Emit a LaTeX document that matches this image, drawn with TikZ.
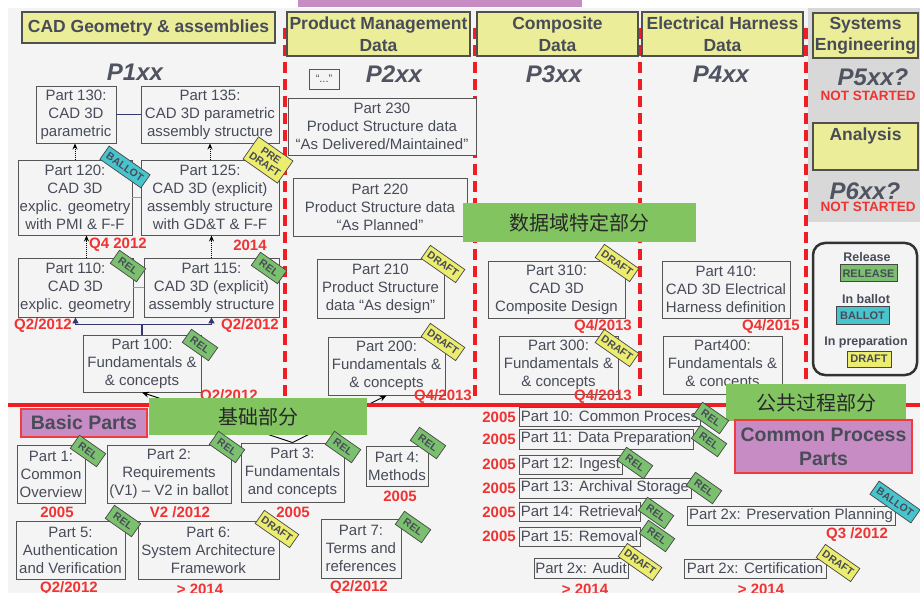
\documentclass[tikz,border=0pt]{standalone}
\usepackage{fontspec}
\setmainfont{Liberation Sans}
\newfontfamily\cjk{Noto Sans CJK SC}
\usetikzlibrary{arrows.meta}
\definecolor{bg}{RGB}{244,244,244}
\definecolor{txt}{RGB}{72,76,88}
\definecolor{boxline}{RGB}{85,85,85}
\definecolor{hdrline}{RGB}{80,80,80}
\definecolor{hdry}{RGB}{236,237,152}
\definecolor{pxxc}{RGB}{80,84,96}
\definecolor{labred}{RGB}{240,50,50}
\definecolor{dashred}{RGB}{240,30,35}
\definecolor{relg}{RGB}{122,192,110}
\definecolor{ballc}{RGB}{72,196,204}
\definecolor{drafty}{RGB}{236,236,110}
\definecolor{badgeline}{RGB}{70,70,70}
\definecolor{greenc}{RGB}{130,196,96}
\definecolor{cjktxt}{RGB}{40,40,40}
\definecolor{pinkc}{RGB}{200,140,196}
\definecolor{pinkline}{RGB}{240,60,60}
\definecolor{navyc}{RGB}{52,56,110}
\definecolor{redthin}{RGB}{240,120,120}
\definecolor{grayreg}{RGB}{216,216,216}
\definecolor{legline}{RGB}{50,50,50}
\newcommand\pbox[7][partbox]{\node[#1, minimum width={(#5-#3)*1pt}, minimum height={(#6-#4)*1pt}] (#2) at ({(#3+#5)/2},{(#4+#6)/2}) {#7};}
\begin{document}
\begin{tikzpicture}[x=1pt,y=-1pt,
 partbox/.style={draw=boxline, fill=bg, line width=0.9pt, align=center, text=txt, font=\fontsize{15}{18}\selectfont, inner sep=0pt},
 hdr/.style={draw=hdrline, fill=hdry, line width=1.2pt, align=center, text=txt, font=\bfseries\fontsize{17.5}{21.5}\selectfont, inner sep=0pt},
 hdrtxt/.style={text=txt, font=\bfseries\fontsize{17.5}{21.5}\selectfont, inner sep=0pt},
 pxx/.style={text=pxxc, font=\bfseries\itshape\fontsize{24}{24}\selectfont, inner sep=0pt},
 redlab/.style={text=labred, font=\bfseries\fontsize{15}{15}\selectfont, inner sep=0pt},
 nst/.style={text=labred, font=\bfseries\fontsize{13.5}{14}\selectfont, inner sep=0pt},
 badge/.style={draw=badgeline, line width=0.7pt, rotate=-35, text=txt, font=\bfseries\fontsize{10.5}{10.5}\selectfont, inner sep=0pt, align=center, minimum height=16pt},
 relb/.style={badge, fill=relg, minimum width=32pt},
 ballotb/.style={badge, fill=ballc, minimum width=50pt},
 draftb/.style={badge, fill=drafty, minimum width=42pt},
 greenb/.style={fill=greenc, text=cjktxt, font=\cjk\fontsize{20}{20}\selectfont, inner sep=0pt},
 pinkb/.style={draw=pinkline, fill=pinkc, line width=1.2pt, text=txt, font=\bfseries\fontsize{19.5}{24}\selectfont, align=center, inner sep=0pt},
 dotarrow/.style={densely dotted, line width=0.9pt, -{Stealth[length=6pt,width=5pt]}},
 navyline/.style={draw=navyc, line width=1.4pt},
 navyarrow/.style={navyline, -{Triangle[length=6pt,width=6pt]}},
 redconn/.style={draw=redthin, line width=1pt},
 blackarrow/.style={line width=0.9pt, -{Stealth[length=7pt,width=6pt]}},
 reddash/.style={draw=dashred, line width=3.5pt, dash pattern=on 11pt off 6pt},
 legt/.style={text=txt, font=\bfseries\fontsize{12.5}{13}\selectfont, inner sep=0pt},
 legb/.style={draw=badgeline, line width=1pt, text=txt, font=\bfseries\fontsize{11}{11}\selectfont, inner sep=0pt},
 legframe/.style={draw=legline, fill=bg, line width=2.5pt, rounded corners=12pt},
 dotsbox/.style={draw=boxline, fill=bg, line width=0.9pt, text=txt, font=\fontsize{11}{11}\selectfont, inner sep=0pt},
]
\useasboundingbox (0,0) rectangle (920,593);
\fill[white] (0,0) rectangle (920,593);
\fill[bg] (8,8) rectangle (920,593);
\fill[pinkc] (298,0) rectangle (582,7);
\fill[grayreg] (808,8) rectangle (920,222);
% dashed column separators
\foreach \xx in {285,475,640,806} \draw[reddash] (\xx,28) -- (\xx,402);
% headers
\pbox[hdr]{hcad}{22}{12}{275}{43}{CAD Geometry \& assemblies}
\pbox[hdr]{hpmd}{287}{12}{470}{56}{Product Management\\Data}
\pbox[hdr]{hcomp}{477}{12}{638}{56}{Composite\\Data}
\pbox[hdr]{helec}{642}{12}{803}{56}{Electrical Harness\\Data}
\pbox[hdr]{hsys}{813}{13}{918}{58}{Systems\\Engineering}
\pbox[hdr]{hana}{813}{123}{918}{170}{}
\node[hdrtxt] (anat) at ([yshift=-14pt]hana.north) {Analysis};
% Pxx titles
\node[pxx] (t1) at (135,72) {P1xx};
\node[pxx] (t2) at (394,74) {P2xx};
\node[pxx] (t3) at (554,74) {P3xx};
\node[pxx] (t4) at (721,74) {P4xx};
\node[pxx] (t5) at (873,77) {P5xx?};
\node[nst] (ns5) at (868,96) {NOT STARTED};
\node[pxx] (t6) at (865,191) {P6xx?};
\node[nst] (ns6) at (868,207) {NOT STARTED};
\pbox[dotsbox]{dots}{309}{69}{339}{89}{“...”}
% P1xx parts
\pbox{p130}{36}{86}{116}{143}{Part 130:\\CAD 3D\\parametric}
\pbox{p135}{141}{86}{279}{143}{Part 135:\\CAD 3D parametric\\assembly structure}
\pbox{p120}{18}{160}{132}{235}{Part 120:\\CAD 3D\\explic. geometry\\with PMI \& F-F}
\pbox{p125}{141}{160}{279}{235}{Part 125:\\CAD 3D (explicit)\\assembly structure\\with GD\&T \& F-F}
\pbox{p110}{18}{258}{133}{317}{Part 110:\\CAD 3D\\explic. geometry}
\pbox{p115}{144}{258}{279}{317}{Part 115:\\CAD 3D (explicit)\\assembly structure}
\pbox{p100}{83}{335}{201}{392}{Part 100:\\Fundamentals \&\\\& concepts}
% P2xx parts
\pbox{p230}{288}{98}{476}{155}{Part 230\\Product Structure data\\“As Delivered/Maintained”}
\pbox{p220}{293}{178}{467}{236}{Part 220\\Product Structure data\\“As Planned”}
\pbox{p210}{317}{259}{444}{318}{Part 210\\Product Structure\\data “As design”}
\pbox{p200}{328}{337}{445}{395}{Part 200:\\Fundamentals \&\\\& concepts}
% P3xx / P4xx parts
\pbox{p310}{488}{261}{625}{318}{Part 310:\\CAD 3D\\Composite Design}
\pbox{p300}{499}{336}{618}{394}{Part 300:\\Fundamentals \&\\\& concepts}
\pbox{p410}{662}{261}{790}{318}{Part 410:\\CAD 3D Electrical\\Harness definition}
\pbox{p400}{663}{336}{782}{394}{Part400:\\Fundamentals \&\\\& concepts}
% connectors P1xx
\draw[navyline] (p130.east) -- (p135.west);
\draw[redconn] (p120.east) -- (p125.west);
\draw[redconn] (p110.east) -- (p115.west);
\draw[dotarrow] (p120.north) -- (p120.north |- p130.south);
\draw[dotarrow] (p125.north) -- (p125.north |- p135.south);
\draw[dotarrow] ([xshift=11pt]p110.north) -- ([xshift=11pt]p110.north |- p120.south);
\draw[dotarrow] (p115.north) -- (p115.north |- p125.south);
\draw[navyline] (p100.north) -- ++(0,-10) coordinate (jn);
\draw[navyarrow] (jn) -| (p110.south);
\draw[navyarrow] (jn) -| (p115.south);
% legend
\pbox[legframe]{leg}{813}{243}{917}{375}{}
\node[legt] (lr) at (867,257) {Release};
\pbox[legb, fill=relg]{lrel}{840}{265}{897}{282}{RELEASE}
\node[legt] (lb) at (866,299) {In ballot};
\pbox[legb, fill=ballc]{lbal}{836}{307}{889}{324}{BALLOT}
\node[legt] (lp) at (866,342) {In preparation};
\pbox[legb, fill=drafty]{ldr}{847}{351}{891}{367}{DRAFT}
% bottom basic parts
\pbox{b1}{17}{445}{85}{503}{Part 1:\\Common\\Overview}
\pbox{b2}{107}{445}{231}{503}{Part 2:\\Requirements\\(V1) – V2 in ballot}
\pbox{b3}{241}{443}{344}{502}{Part 3:\\Fundamentals\\and concepts}
\pbox{b4}{366}{446}{428}{486}{Part 4:\\Methods}
\pbox{b5}{16}{521}{125}{579}{Part 5:\\Authentication\\and Verification}
\pbox{b6}{138}{521}{279}{579}{Part 6:\\System Architecture\\Framework}
\pbox{b7}{321}{519}{401}{578}{Part 7:\\Terms and\\references}
% common process parts
\pbox{s10}{519}{407}{700}{426}{Part 10: Common Process}
\pbox{s11}{519}{429}{693}{449}{Part 11: Data Preparation}
\pbox{s12}{519}{455}{622}{474}{Part 12: Ingest}
\pbox{s13}{519}{478}{691}{498}{Part 13: Archival Storage}
\pbox{s14}{519}{502}{640}{521}{Part 14: Retrieval}
\pbox{s15}{519}{527}{640}{546}{Part 15: Removal}
\pbox{saud}{534}{558}{628}{578}{Part 2x: Audit}
\pbox{spres}{687}{506}{895}{525}{Part 2x: Preservation Planning}
\pbox{scert}{684}{559}{826}{578}{Part 2x: Certification}
% arrows from Part 3
\draw[blackarrow] (b3.north) -- (p100.south);
\draw[blackarrow] (b3.north) -- (p200.south);
% red date labels
\node[redlab] (l1) at (118,245) {Q4 2012};
\node[redlab] (l2) at (250,245) {2014};
\node[redlab] (l3) at (43,326) {Q2/2012};
\node[redlab] (l4) at (250,326) {Q2/2012};
\node[redlab] (l5) at (229,397) {Q2/2012};
\node[redlab] (l6) at (443,397) {Q4/2013};
\node[redlab] (l7) at (603,327) {Q4/2013};
\node[redlab] (l8) at (771,327) {Q4/2015};
\node[redlab] (l9) at (603,397) {Q4/2013};
\node[redlab] (l10) at (57,512) {2005};
\node[redlab] (l11) at (180,512) {V2 /2012};
\node[redlab] (l12) at (293,512) {2005};
\node[redlab] (l13) at (400,496) {2005};
\node[redlab] (l14) at (69,589) {Q2/2012};
\node[redlab] (l15) at (200,589) {> 2014};
\node[redlab] (l16) at (359,588) {Q2/2012};
\node[redlab] (l17) at (585,589) {> 2014};
\node[redlab] (l18) at (761,589) {> 2014};
\node[redlab] (l19) at (857,535) {Q3 /2012};
\node[redlab] (y10) at (499,417) {2005};
\node[redlab] (y11) at (499,439) {2005};
\node[redlab] (y12) at (499,464) {2005};
\node[redlab] (y13) at (499,488) {2005};
\node[redlab] (y14) at (499,512) {2005};
\node[redlab] (y15) at (499,536) {2005};
% red separator
\draw[draw=dashred, line width=4pt] (8,405) -- (920,405);
% green and pink labels
\pbox[greenb]{g1}{463}{203}{696}{242}{数据域特定部分}
\pbox[greenb]{g2}{149}{398}{367}{435}{基础部分}
\pbox[greenb]{g3}{726}{384}{906}{421}{公共过程部分}
\pbox[pinkb]{bp}{21}{409}{147}{437}{Basic Parts}
\pbox[pinkb]{cpp}{735}{420}{912}{473}{Common Process\\Parts}
% badges
\node[ballotb] (bg120) at (125,167) {BALLOT};
\node[draftb, minimum height=27pt] (bg125) at (268,160) {PRE\\DRAFT};
\node[relb] (bg110) at (128,266) {REL};
\node[relb] (bg115) at (269,268) {REL};
\node[relb] (bg100) at (200,345) {REL};
\node[draftb] (bg210) at (443,264) {DRAFT};
\node[draftb] (bg200) at (443,342) {DRAFT};
\node[draftb] (bg310) at (617,263) {DRAFT};
\node[draftb] (bg300) at (617,348) {DRAFT};
\node[relb] (bb1) at (88,451) {REL};
\node[relb] (bb2) at (227,447) {REL};
\node[relb] (bb3) at (343,447) {REL};
\node[relb] (bb4) at (428,443) {REL};
\node[relb] (bb5) at (123,521) {REL};
\node[draftb] (bb6) at (277,529) {DRAFT};
\node[relb] (bb7) at (413,527) {REL};
\node[relb] (bs10) at (711,418) {REL};
\node[relb] (bs11) at (709,441) {REL};
\node[relb] (bs12) at (635,463) {REL};
\node[relb] (bs13) at (704,488) {REL};
\node[relb] (bs14) at (656,513) {REL};
\node[relb] (bs15) at (657,536) {REL};
\node[draftb] (bsaud) at (640,562) {DRAFT};
\node[ballotb] (bspres) at (895,502) {BALLOT};
\node[draftb] (bscert) at (838,563) {DRAFT};
\end{tikzpicture}
\end{document}
